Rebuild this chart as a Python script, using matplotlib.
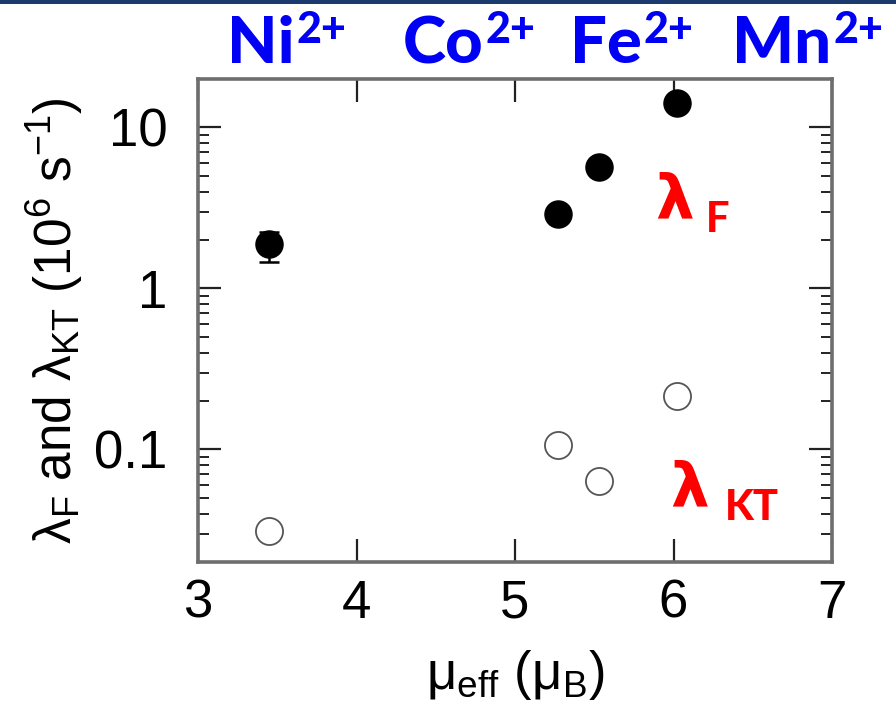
import matplotlib
matplotlib.use("Agg")
import matplotlib.pyplot as plt
from matplotlib.patches import Rectangle
from matplotlib.ticker import LogLocator, NullFormatter, FuncFormatter, FixedLocator

# ---- data -------------------------------------------------------------
ions = ["Ni", "Co", "Fe", "Mn"]
charge = "2+"
mu_eff = [3.45, 5.27, 5.53, 6.02]          # effective moment (mu_B)
lambda_F = [1.9, 2.9, 5.7, 14.1]           # 10^6 s^-1
lambda_F_err_low = [0.45, 0.0, 0.0, 0.0]
lambda_F_err_high = [0.35, 0.0, 0.0, 0.0]
lambda_KT = [0.031, 0.106, 0.064, 0.216]   # 10^6 s^-1
x_ticks = [3, 4, 5, 6, 7]

# ---- figure -----------------------------------------------------------
W, H = 896, 712
DPI = 100
plt.rcParams["font.family"] = ["Liberation Sans", "DejaVu Sans"]
plt.rcParams["mathtext.default"] = "regular"

fig = plt.figure(figsize=(W / DPI, H / DPI), dpi=DPI)
fig.patch.set_facecolor("white")


def px(x, y):
    """Pixel position (from top-left) to figure fraction."""
    return x / W, 1 - y / H


# navy rule along the top edge
fig.patches.append(Rectangle((0, 1 - 3.5 / H), 1, 3.5 / H, transform=fig.transFigure,
                             facecolor="#1c3a6e", edgecolor="none", zorder=5))

x0, y0 = px(198, 562)
x1, y1 = px(832, 79)
ax = fig.add_axes([x0, y0, x1 - x0, y1 - y0])

ax.errorbar(mu_eff, lambda_F, yerr=[lambda_F_err_low, lambda_F_err_high], fmt="none",
            ecolor="black", elinewidth=1.8, capsize=7, capthick=1.8, zorder=2)
ax.plot(mu_eff, lambda_F, linestyle="none", marker="o", ms=19.5,
        mfc="black", mec="black", zorder=3)
ax.plot(mu_eff, lambda_KT, linestyle="none", marker="o", ms=19.5,
        mfc="white", mec="#555555", mew=1.3, zorder=3)

ax.set_yscale("log")
ax.set_xlim(3, 7)
ax.set_ylim(0.02, 20)
ax.xaxis.set_major_locator(FixedLocator(x_ticks))
ax.yaxis.set_major_locator(LogLocator(base=10))
ax.yaxis.set_minor_locator(LogLocator(base=10, subs=range(2, 10)))
ax.yaxis.set_minor_formatter(NullFormatter())
ax.yaxis.set_major_formatter(FuncFormatter(lambda v, p: f"{v:g}"))

ax.tick_params(which="both", direction="in", top=True, right=True, color="#222222")
ax.tick_params(which="major", length=16.5, width=1.6, labelsize=38, pad=12)
ax.tick_params(axis="y", which="major", pad=22)
ax.tick_params(which="minor", length=8, width=1.4)
for s in ax.spines.values():
    s.set_color("#6e6e6e")
    s.set_linewidth(2.6)

ax.set_xlabel(r"μ$_{eff}$ (μ$_{B}$)", fontsize=38, labelpad=14)
ax.set_ylabel(r"λ$_{F}$ and λ$_{KT}$ (10$^{6}$ s$^{-1}$)", fontsize=37)
ax.yaxis.set_label_coords(-0.178, 0.5)

# ---- ion labels above the panel --------------------------------------
ion_font = dict(family=["Lato", "DejaVu Sans"], fontweight="black", color="#0000f5")
ion_left = [227, 403, 570, 732]
charge_baseline = px(0, 43)[1]
for name, xl in zip(ions, ion_left):
    base = fig.text(*px(xl, 63), name, fontsize=47, ha="left", va="baseline", **ion_font)
    # charge written as a raised superscript right after the element symbol
    ax.annotate(charge, xy=(1, charge_baseline), xycoords=(base, "figure fraction"),
                xytext=(1.5, 0), textcoords="offset points", fontsize=31,
                ha="left", va="baseline", annotation_clip=False, **ion_font)

# ---- lambda annotations ----------------------------------------------
red = "#ff0000"
lam_font = dict(family=["DejaVu Sans"], fontweight="bold", color=red)
sub_font = dict(family=["Lato", "DejaVu Sans"], fontweight="black", color=red)
fig.text(*px(655, 217), "λ", fontsize=44, ha="left", va="baseline", **lam_font)
fig.text(*px(706, 232), "F", fontsize=30, ha="left", va="baseline", **sub_font)
fig.text(*px(670, 505), "λ", fontsize=44, ha="left", va="baseline", **lam_font)
fig.text(*px(725, 520), "KT", fontsize=30, ha="left", va="baseline", **sub_font)

fig.savefig("out.png", dpi=DPI)
